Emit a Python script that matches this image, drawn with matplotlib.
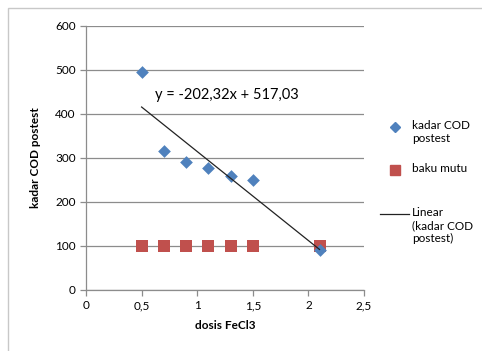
import matplotlib
matplotlib.use("Agg")
import matplotlib.pyplot as plt
from matplotlib.lines import Line2D
from matplotlib.patches import Rectangle
import numpy as np

dosis = [0.5, 0.7, 0.9, 1.1, 1.3, 1.5, 2.1]
cod_postest = [495, 317, 290, 277, 260, 250, 90]
baku_mutu = [100, 100, 100, 100, 100, 100, 100]
slope, intercept = -202.32, 517.03
eq_label = "y = -202,32x + 517,03"
x_ticks = [0, 0.5, 1, 1.5, 2, 2.5]
x_ticklabels = ["0", "0,5", "1", "1,5", "2", "2,5"]
y_ticks = [0, 100, 200, 300, 400, 500, 600]

plt.rcParams['font.family'] = ['Lato', 'DejaVu Sans']

W, H = 482, 351
fig = plt.figure(figsize=(W / 100, H / 100), dpi=100)
fig.patch.set_facecolor("white")

# outer chart border
fig.add_artist(Rectangle((8 / W, -0.1), 1.2, 1 - 8 / H + 0.1, transform=fig.transFigure,
                         fill=False, edgecolor="#c8c8c8", linewidth=1.0))

ax = fig.add_axes([86 / W, 1 - 290 / H, (364 - 86) / W, (290 - 26) / H])
ax.set_xlim(0, 2.5)
ax.set_ylim(0, 600)
ax.set_xticks(x_ticks)
ax.set_xticklabels(x_ticklabels)
ax.set_yticks(y_ticks)
ax.yaxis.grid(True, color="#8c8c8c", linewidth=0.9)
ax.set_axisbelow(True)
for s in ["top", "right"]:
    ax.spines[s].set_visible(False)
for s in ["left", "bottom"]:
    ax.spines[s].set_color("#8c8c8c")
    ax.spines[s].set_linewidth(0.9)
ax.tick_params(axis="both", colors="#8c8c8c", labelcolor="black", labelsize=8.5, length=4, width=0.9)

ax.scatter(dosis, baku_mutu, marker="s", s=70, color="#C0504D", zorder=3, linewidths=0)
ax.scatter(dosis, cod_postest, marker="D", s=42, color="#4F81BD", zorder=4, linewidths=0)
xs = np.array([min(dosis), max(dosis)])
ax.plot(xs, slope * xs + intercept, color="#222222", linewidth=0.9, zorder=5)

ax.text(0.62, 443, eq_label, fontsize=10.5, ha="left", va="center")

ax.set_xlabel("dosis FeCl3", fontsize=8.5, fontweight="bold", labelpad=6)
ax.set_ylabel("kadar COD postest", fontsize=8.5, fontweight="bold", labelpad=10)

# legend (manual, handles aligned with first text line like Excel)
def fx(px): return px / W
def fy(py): return 1 - py / H
fig.add_artist(Line2D([fx(395)], [fy(127)], marker="D", markersize=5, color="#4F81BD",
                      linestyle="none", transform=fig.transFigure))
fig.add_artist(Line2D([fx(395)], [fy(170)], marker="s", markersize=7, color="#C0504D",
                      linestyle="none", transform=fig.transFigure))
fig.add_artist(Line2D([fx(380), fx(409)], [fy(214), fy(214)], color="#222222", linewidth=0.9,
                      transform=fig.transFigure))
lt = dict(fontsize=8.5, ha="left", va="top", linespacing=1.2)
fig.text(fx(412), fy(120), "kadar COD\npostest", **lt)
fig.text(fx(412), fy(163), "baku mutu", **lt)
fig.text(fx(412), fy(207), "Linear\n(kadar COD\npostest)", **lt)

fig.savefig("out.png", dpi=100)
